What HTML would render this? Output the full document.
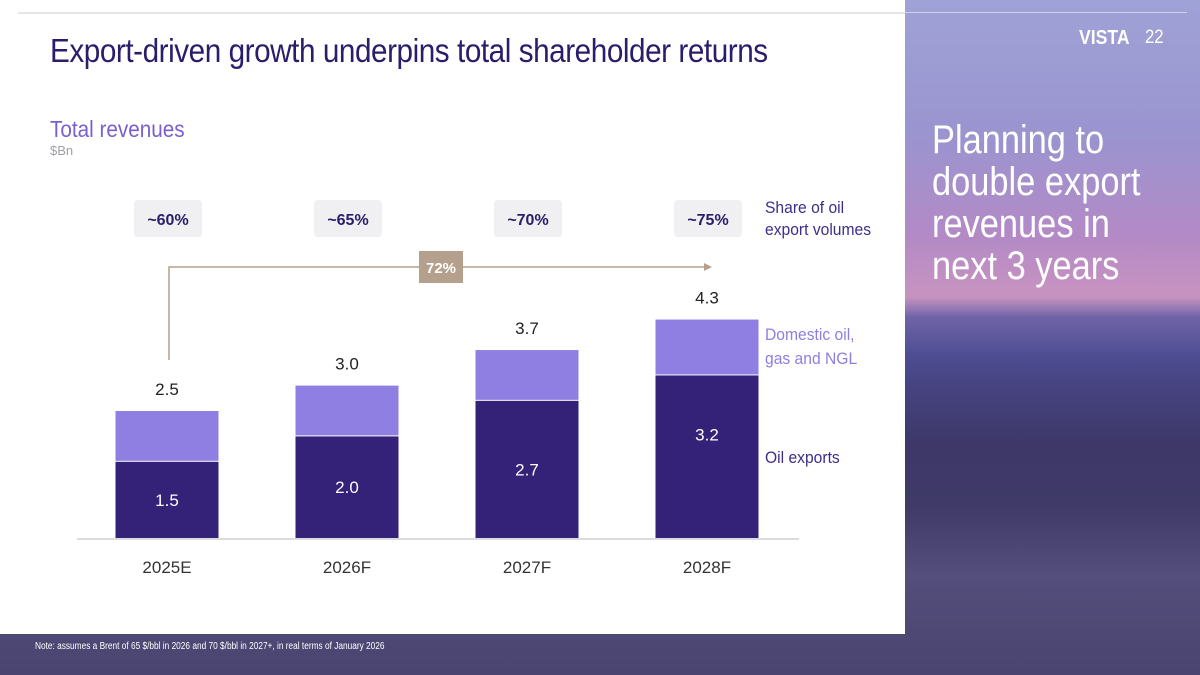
<!DOCTYPE html>
<html><head><meta charset="utf-8"><style>
body{margin:0;width:1200px;height:675px;overflow:hidden;position:relative;font-family:"Liberation Sans Narrow","Liberation Sans",sans-serif;}
#bg{position:absolute;left:0;top:0;width:1200px;height:675px;background:linear-gradient(180deg,#9fa2d6 0%,#9a94cf 20%,#b38ac6 35%,#c893c0 44%,#6f64a8 47%,#4d4c91 53%,#45427e 58%,#3d3868 66%,#3f3a68 75%,#544e7c 85%,#4a4470 100%);}
#panel{position:absolute;left:0;top:0;width:905px;height:634px;background:#fff;}
.t{position:absolute;white-space:nowrap;transform-origin:0 0;}
</style></head><body>
<div id="bg"></div>
<div class="t" style="left:905px;top:12px;width:282px;height:1px;background:rgba(255,255,255,0.5)"></div>
<div id="panel"></div>
<div class="t" style="left:18px;top:12px;width:887px;height:2px;background:#e6e6ea"></div>
<div class="t" style="left:50px;top:32px;font-size:33px;color:#2a1d6b;letter-spacing:-0.5px;transform:scaleX(0.9)">Export-driven growth underpins total shareholder returns</div>
<div class="t" style="left:1079px;top:27px;font-size:20px;color:#fff;font-weight:bold;transform:scaleX(0.88)">VISTA</div>
<div class="t" style="left:1145px;top:27px;font-size:19px;color:#fff;transform:scaleX(0.88)">22</div>
<div class="t" style="left:932px;top:119px;font-size:40px;line-height:42px;color:#fff;transform:scaleX(0.86)">Planning to<br>double export<br>revenues in<br>next 3 years</div>
<div class="t" style="left:50px;top:116px;font-size:23px;color:#7a5fd0;transform:scaleX(0.9)">Total revenues</div>
<div class="t" style="left:50px;top:143px;font-size:13px;color:#a0a0a8">$Bn</div>
<div class="t" style="left:765px;top:197px;font-size:17px;line-height:22px;color:#3f2d8a;transform:scaleX(0.92)">Share of oil<br>export volumes</div>
<div class="t" style="left:765px;top:323px;font-size:17px;line-height:24px;color:#8d7fe0;transform:scaleX(0.92)">Domestic oil,<br>gas and NGL</div>
<div class="t" style="left:765px;top:448px;font-size:17px;color:#3f2d8a;transform:scaleX(0.92)">Oil exports</div>
<div class="t" style="left:35px;top:641px;font-size:10px;color:#fff;transform:scaleX(0.83)">Note: assumes a Brent of 65 $/bbl in 2026 and 70 $/bbl in 2027+, in real terms of January 2026</div>
<svg id="chart" width="905" height="634" style="position:absolute;left:0;top:0"></svg>
<script>
const categories=["2025E","2026F","2027F","2028F"];
const oilExports=[1.5,2.0,2.7,3.2];
const domestic=[1.0,1.0,1.0,1.1];
const totals=["2.5","3.0","3.7","4.3"];
const exportLabels=["1.5","2.0","2.7","3.2"];
const shares=["~60%","~65%","~70%","~75%"];
const cagr="72%";
const svg=document.getElementById('chart');
const NS="http://www.w3.org/2000/svg";
const base=538, ppu=50.8, x0=167, step=180, bw=103;
const xs=i=>x0+i*step, ys=v=>base-v*ppu;
function mk(tag,attrs,txt){const e=document.createElementNS(NS,tag);for(const k in attrs)e.setAttribute(k,attrs[k]);if(txt!==undefined)e.textContent=txt;svg.appendChild(e);return e;}
const ax=mk('line',{x1:77,x2:799,y1:base+1,y2:base+1,stroke:'#dcdce0','stroke-width':2});


const F='Liberation Sans Narrow, Liberation Sans, sans-serif';
categories.forEach((c,i)=>{
  const cx=xs(i), tot=oilExports[i]+domestic[i];
  const b1=mk('rect',{x:cx-bw/2,y:ys(oilExports[i]),width:bw,height:oilExports[i]*ppu,fill:'#342178'});
  
  
  const b2=mk('rect',{x:cx-bw/2,y:ys(tot),width:bw,height:domestic[i]*ppu-1,fill:'#8f7fe2'});
  
  
  const l1=mk('text',{x:cx,y:ys(oilExports[i]/2)+6+(i==3?-22:0),'text-anchor':'middle','font-size':17,fill:'#fff','font-family':F},exportLabels[i]);
  
  
  const l2=mk('text',{x:cx,y:ys(tot)-16,'text-anchor':'middle','font-size':17,fill:'#222','font-family':F},totals[i]);
  
  
  const l3=mk('text',{x:cx,y:573,'text-anchor':'middle','font-size':17,fill:'#333','font-family':F},c);
  
  
  const sb=mk('rect',{x:cx-33,y:200,width:68,height:37,rx:4,fill:'#f0f0f3'});
  
  
  const st=mk('text',{x:cx+1,y:225,'text-anchor':'middle','font-size':16,'font-weight':'bold',fill:'#2a1d6b','font-family':F},shares[i]);
  
  
});
const ar=mk('path',{d:'M169 360 V267 H706',fill:'none',stroke:'#b4a08c','stroke-width':1.5});


const ah=mk('path',{d:'M704 263 L712 267 L704 271 Z',fill:'#b4a08c'});


const gb=mk('rect',{x:419,y:251,width:44,height:32,fill:'#b4a08c'});


const gt=mk('text',{x:441,y:273,'text-anchor':'middle','font-size':15,'font-weight':'bold',fill:'#fff','font-family':F},cagr);


</script>
</body></html>
